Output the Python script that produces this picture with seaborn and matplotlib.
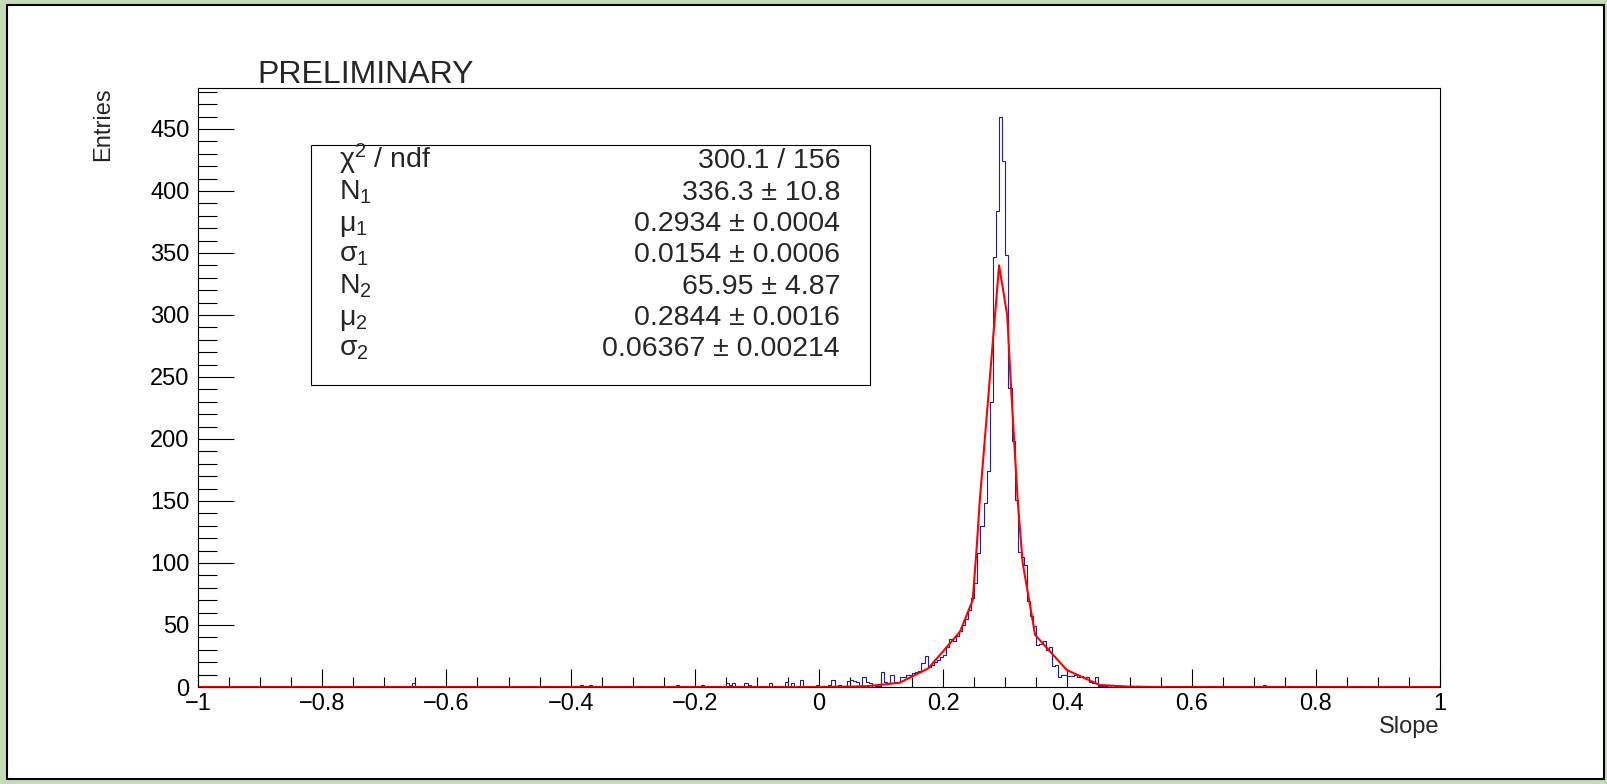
import numpy as np
import pandas as pd
import matplotlib
matplotlib.use("Agg")
import matplotlib.pyplot as plt
import seaborn as sns
from matplotlib.patches import Rectangle
from matplotlib.ticker import MultipleLocator

# ---------------- data ----------------
# histogram: 400 bins of width 0.005 on [-1, 1]
n_bins = 400
x_range = (-1.0, 1.0)

# dense region: bins starting at 0.100 (one count per 0.005 bin)
core_start = 0.100
core_counts = [12, 4, 3, 10, 4, 4, 8, 8, 10, 10,
               11, 12, 13, 19, 25, 16, 18, 20, 22, 24,
               26, 32, 39, 37, 41, 45, 50, 55, 62, 72,
               84, 108, 130, 148, 174, 230, 347, 384, 460, 424,
               348, 241, 198, 151, 109, 105, 98, 69, 57, 49,
               34, 35, 37, 30, 32, 17, 18, 8, 10, 10,
               9, 9, 10, 8, 9, 7, 8, 4, 3, 8,
               1, 1, 1, 0, 2, 1, 2, 0, 1, 0]

# sparse tails: bin low edge and entries
tail_bins = [-0.895, -0.835, -0.795, -0.655, -0.625, -0.49, -0.465, -0.44, -0.435,
             -0.415, -0.40, -0.395, -0.385, -0.37, -0.315, -0.305, -0.29, -0.25,
             -0.23, -0.215, -0.19, -0.15, -0.145, -0.14, -0.13, -0.12, -0.115,
             -0.10, -0.08, -0.075, -0.055, -0.045, -0.03, -0.015, -0.005, 0.005,
             0.015, 0.02, 0.03, 0.04, 0.045, 0.05, 0.055, 0.06, 0.07, 0.075,
             0.08, 0.09, 0.095,
             0.50, 0.51, 0.54, 0.55, 0.585, 0.615, 0.625, 0.63, 0.715, 0.72,
             0.755, 0.87, 0.905, 0.915, 0.925]
tail_counts = [1, 1, 1, 3, 1, 1, 1, 1, 1,
               1, 1, 1, 2, 2, 1, 1, 1, 1,
               2, 1, 2, 3, 2, 3, 1, 3, 2,
               1, 3, 1, 4, 3, 6, 1, 2, 1,
               2, 6, 2, 1, 5, 6, 5, 4, 8, 4,
               3, 1, 1,
               1, 1, 1, 1, 1, 1, 1, 1, 2, 1,
               1, 1, 1, 1, 1]

# fitted curve (polyline)
fit_x = [-1.0, 0.0, 0.05, 0.08, 0.10, 0.13, 0.176, 0.227, 0.2475, 0.254, 0.259,
         0.290, 0.303, 0.310, 0.320, 0.328, 0.348, 0.399, 0.452, 0.50, 0.55, 1.0]
fit_y = [0, 0, 0.3, 0.8, 1.8, 3.5, 15, 44.6, 70, 113, 151,
         340, 300, 235, 150, 100, 42, 13.7, 1.6, 0.3, 0, 0]

stat_names = [r"χ$^{2}$ / ndf", r"N$_{1}$", r"μ$_{1}$", r"σ$_{1}$",
              r"N$_{2}$", r"μ$_{2}$", r"σ$_{2}$"]
stat_values = ["300.1 / 156", "336.3 ± 10.8", "0.2934 ± 0.0004", "0.0154 ± 0.0006",
               "65.95 ± 4.87", "0.2844 ± 0.0016", "0.06367 ± 0.00214"]

xticks = [-1, -0.8, -0.6, -0.4, -0.2, 0, 0.2, 0.4, 0.6, 0.8, 1]
xtick_labels = ["\u22121", "\u22120.8", "\u22120.6", "\u22120.4", "\u22120.2", "0",
                "0.2", "0.4", "0.6", "0.8", "1"]
yticks = [0, 50, 100, 150, 200, 250, 300, 350, 400, 450]

# ---------------- build histogram table ----------------
width = (x_range[1] - x_range[0]) / n_bins
centers = x_range[0] + width * (np.arange(n_bins) + 0.5)
weights = np.zeros(n_bins)
start_idx = int(round((core_start - x_range[0]) / width))
for i, c in enumerate(core_counts):
    weights[start_idx + i] += c
for lo, c in zip(tail_bins, tail_counts):
    weights[int(round((lo - x_range[0]) / width))] += c
df = pd.DataFrame({"Slope": centers, "Entries": weights})
fit_df = pd.DataFrame({"Slope": fit_x, "Entries": fit_y})

# ---------------- style ----------------
sns.set_theme(style="ticks")
plt.rcParams["font.family"] = ["Liberation Sans", "DejaVu Sans"]
plt.rcParams["mathtext.fontset"] = "custom"
plt.rcParams["mathtext.rm"] = "Liberation Sans"
plt.rcParams["mathtext.it"] = "Liberation Sans"
plt.rcParams["axes.unicode_minus"] = True

W, H = 1607, 784
fig = plt.figure(figsize=(W / 100, H / 100), dpi=100)
fig.patch.set_facecolor("#c6dcb6")
fig.add_artist(Rectangle((7 / W, 5 / H), (1604 - 7) / W, (779 - 5) / H,
                         transform=fig.transFigure, facecolor="white",
                         edgecolor="black", linewidth=1.5, zorder=0))

ax = fig.add_axes([198 / W, (H - 687) / H, (1440 - 198) / W, (687 - 88) / H])
ax.set_facecolor("white")

sns.histplot(data=df, x="Slope", weights="Entries", bins=n_bins, binrange=x_range,
             element="step", fill=False, color="#22228c", linewidth=0.8, ax=ax)
sns.lineplot(data=fit_df, x="Slope", y="Entries", sort=False, estimator=None,
             color="#ff0000", linewidth=1.5, ax=ax)

ax.set_xlim(-1, 1)
ax.set_ylim(0, 483)
ax.set_xlabel("")
ax.set_ylabel("")
ax.set_xticks(xticks, labels=xtick_labels)
ax.set_yticks(yticks)
ax.xaxis.set_minor_locator(MultipleLocator(0.05))
ax.yaxis.set_minor_locator(MultipleLocator(10))
for s in ax.spines.values():
    s.set_color("black")
    s.set_linewidth(0.8)
ax.tick_params(axis="both", which="both", direction="in", top=False, right=False,
               color="black", width=0.8, labelsize=17, labelcolor="black")
ax.tick_params(axis="x", which="major", length=13, pad=4)
ax.tick_params(axis="x", which="minor", length=7.2)
ax.tick_params(axis="y", which="major", length=26, pad=6)
ax.tick_params(axis="y", which="minor", length=13.5)
ax.grid(False)

# titles
fig.text(257 / W, 1 - 83 / H, "PRELIMINARY", fontsize=23, ha="left", va="baseline")
fig.text(103 / W, 1 - 87 / H, "Entries", rotation=90, fontsize=17, ha="center", va="top")
fig.text(1439 / W, 1 - 716 / H, "Slope", fontsize=17, ha="right", va="top")

# stats box
fig.add_artist(Rectangle((311 / W, 1 - 385 / H), (870 - 311) / W, (385 - 145) / H,
                         transform=fig.transFigure, facecolor="white",
                         edgecolor="black", linewidth=0.8, zorder=5))
baselines = [168, 200, 231, 262, 294, 325, 356]
for name, val, b in zip(stat_names, stat_values, baselines):
    fig.text(339 / W, 1 - b / H, name, fontsize=20.5, ha="left", va="baseline", zorder=6)
    fig.text(840 / W, 1 - b / H, val, fontsize=20.5, ha="right", va="baseline", zorder=6)

fig.savefig("out.png", dpi=100, facecolor=fig.get_facecolor())
